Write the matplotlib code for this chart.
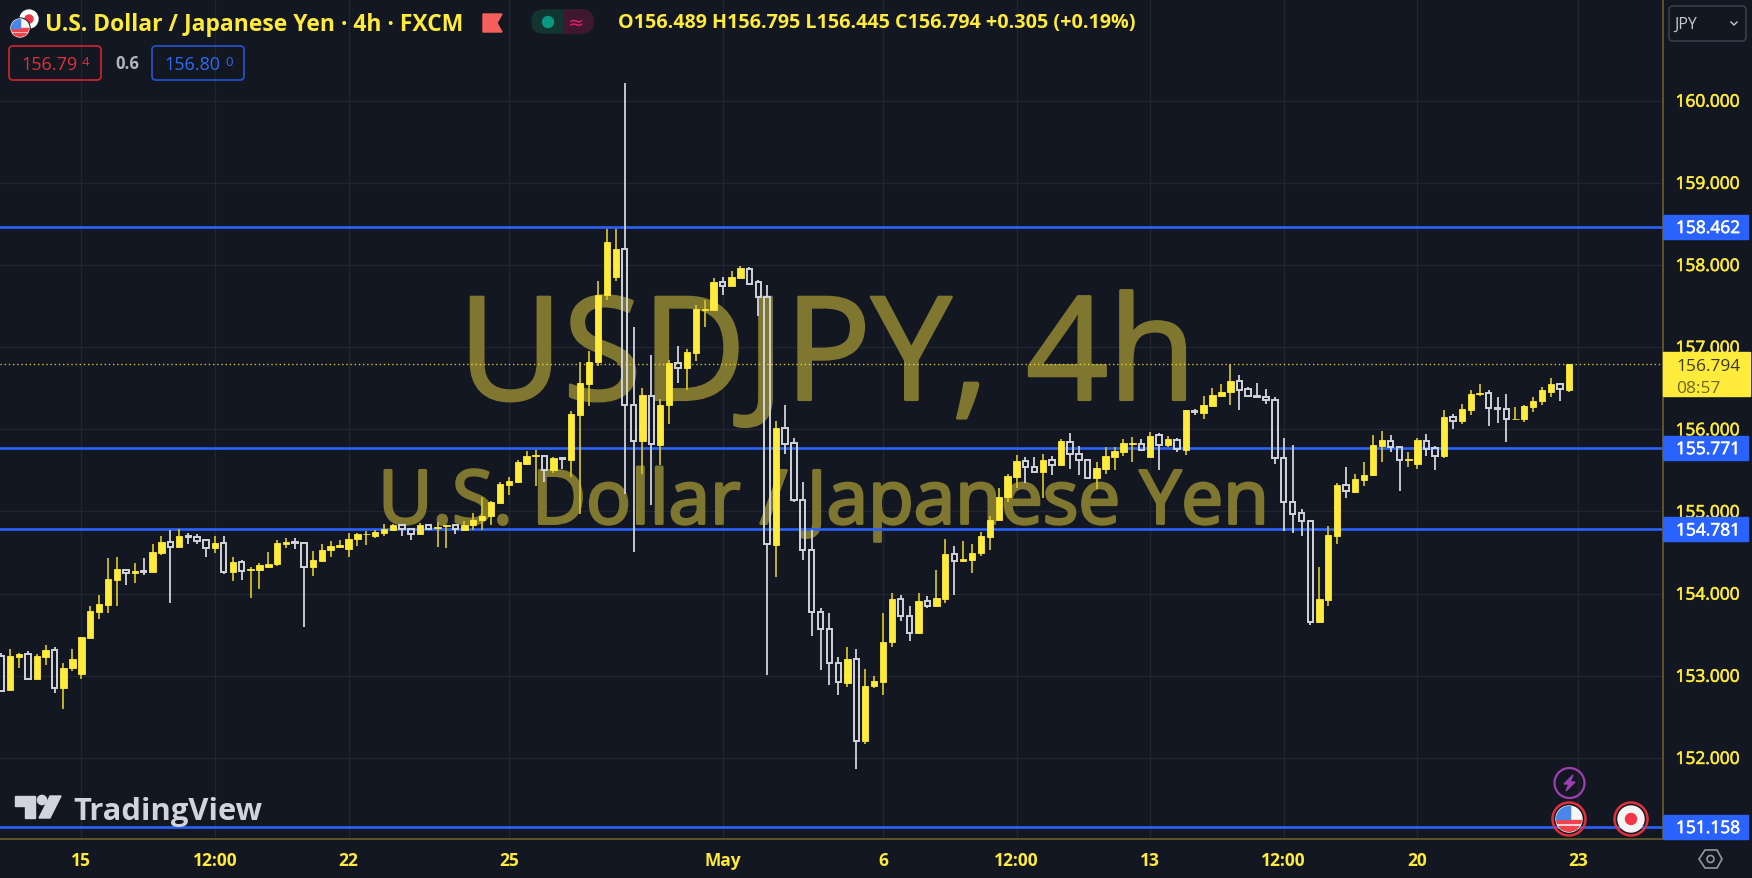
import matplotlib
matplotlib.use('Agg')
from matplotlib import pyplot as plt
from matplotlib import patheffects as pe
from matplotlib.patches import Rectangle, Circle, FancyBboxPatch, Polygon

# 4h candles, first bar is index -9 (index 0 is the "15" tick)
first_bar = -9
opens = [153.24, 152.83, 153.23, 153.26, 152.96, 153.23, 153.31, 152.85, 153.09, 153.02,
         153.46, 153.78, 153.86, 154.17, 154.29, 154.25, 154.28, 154.26, 154.49, 154.63,
         154.57, 154.70, 154.69, 154.65, 154.55, 154.62, 154.26, 154.38, 154.29, 154.29,
         154.33, 154.36, 154.61, 154.63, 154.62, 154.32, 154.40, 154.53, 154.57, 154.54,
         154.67, 154.72, 154.70, 154.74, 154.78, 154.84, 154.79, 154.72, 154.84, 154.80,
         154.82, 154.83, 154.78, 154.83, 154.90, 154.94, 155.10, 155.32, 155.36, 155.58,
         155.67, 155.68, 155.50, 155.65, 155.63, 156.18, 156.55, 156.82, 157.64, 157.86,
         158.20, 156.30, 155.86, 156.41, 155.81, 156.30, 156.81, 156.75, 156.93, 157.45,
         157.45, 157.79, 157.74, 157.84, 157.95, 157.79, 157.61, 154.59, 156.02, 155.83,
         155.14, 154.53, 153.78, 153.57, 153.16, 152.91, 153.20, 152.21, 152.87, 152.93,
         153.41, 153.94, 153.73, 153.52, 153.91, 153.85, 153.94, 154.48, 154.40, 154.41,
         154.49, 154.69, 154.89, 155.17, 155.42, 155.61, 155.54, 155.48, 155.63, 155.56,
         155.85, 155.70, 155.63, 155.41, 155.52, 155.66, 155.72, 155.82, 155.82, 155.66,
         155.93, 155.81, 155.87, 155.75, 156.22, 156.20, 156.28, 156.40, 156.45, 156.59,
         156.49, 156.40, 156.39, 156.36, 155.65, 155.12, 154.98, 154.88, 153.65, 153.92,
         154.70, 155.32, 155.24, 155.38, 155.44, 155.80, 155.86, 155.79, 155.63, 155.58,
         155.86, 155.77, 155.67, 156.15, 156.10, 156.24, 156.43, 156.44, 156.26, 156.25,
         156.12, 156.13, 156.27, 156.34, 156.46, 156.55, 156.48]
highs = [153.28, 153.33, 153.28, 153.30, 153.27, 153.38, 153.35, 153.15, 153.32, 153.47,
         153.85, 153.98, 154.43, 154.45, 154.30, 154.37, 154.43, 154.61, 154.70, 154.77,
         154.79, 154.74, 154.72, 154.67, 154.70, 154.70, 154.45, 154.41, 154.32, 154.37,
         154.51, 154.65, 154.68, 154.68, 154.62, 154.52, 154.61, 154.64, 154.65, 154.74,
         154.74, 154.76, 154.77, 154.85, 154.85, 154.85, 154.79, 154.86, 154.85, 154.87,
         154.83, 154.84, 154.88, 154.98, 155.17, 155.13, 155.36, 155.42, 155.63, 155.74,
         155.75, 155.69, 155.66, 155.66, 156.22, 156.82, 156.95, 157.80, 158.44, 158.44,
         160.22, 157.24, 156.50, 156.90, 156.37, 156.84, 157.01, 156.98, 157.51, 157.58,
         157.84, 157.86, 157.93, 157.99, 157.97, 157.82, 157.76, 156.10, 156.29, 155.90,
         155.36, 154.78, 153.83, 153.76, 153.23, 153.35, 153.32, 153.08, 153.00, 153.77,
         154.01, 153.98, 153.85, 154.01, 153.97, 154.29, 154.66, 154.58, 154.64, 154.60,
         154.75, 154.94, 155.28, 155.46, 155.69, 155.66, 155.66, 155.70, 155.67, 155.88,
         155.96, 155.80, 155.64, 155.60, 155.78, 155.78, 155.88, 155.91, 155.88, 155.97,
         155.95, 155.92, 155.90, 156.24, 156.25, 156.40, 156.50, 156.55, 156.79, 156.66,
         156.51, 156.56, 156.49, 156.39, 155.89, 155.81, 155.03, 154.88, 154.32, 154.82,
         155.35, 155.54, 155.45, 155.60, 155.93, 155.98, 155.93, 155.80, 155.72, 155.89,
         155.94, 155.80, 156.23, 156.19, 156.31, 156.48, 156.55, 156.48, 156.39, 156.43,
         156.27, 156.29, 156.39, 156.52, 156.62, 156.56, 156.80]
lows = [152.80, 152.83, 153.09, 152.96, 152.96, 153.13, 152.79, 152.59, 153.06, 152.96,
        153.46, 153.69, 153.77, 153.85, 154.11, 154.13, 154.23, 154.26, 154.47, 153.89,
        154.57, 154.61, 154.60, 154.45, 154.49, 154.24, 154.15, 154.17, 153.95, 154.06,
        154.32, 154.34, 154.55, 154.54, 153.59, 154.21, 154.39, 154.45, 154.55, 154.44,
        154.58, 154.59, 154.68, 154.70, 154.77, 154.70, 154.65, 154.72, 154.77, 154.57,
        154.55, 154.72, 154.77, 154.77, 154.77, 154.84, 155.09, 155.20, 155.35, 155.56,
        155.31, 155.36, 155.47, 155.52, 155.42, 154.97, 156.28, 156.77, 157.58, 157.81,
        155.21, 154.51, 155.46, 155.08, 155.57, 156.07, 156.56, 156.48, 156.83, 157.24,
        157.45, 157.64, 157.74, 157.84, 157.76, 157.38, 153.01, 154.20, 155.70, 155.11,
        154.41, 153.49, 153.07, 152.89, 152.76, 152.86, 151.87, 152.17, 152.85, 152.76,
        153.35, 153.67, 153.42, 153.51, 153.83, 153.84, 153.88, 153.98, 154.39, 154.25,
        154.46, 154.53, 154.89, 155.12, 155.28, 155.35, 155.47, 155.16, 155.44, 155.55,
        155.52, 155.44, 155.40, 155.27, 155.46, 155.50, 155.67, 155.60, 155.74, 155.66,
        155.51, 155.78, 155.72, 155.69, 156.17, 156.13, 156.28, 156.40, 156.30, 156.24,
        156.39, 156.39, 156.31, 155.58, 154.76, 154.74, 154.70, 153.62, 153.64, 153.85,
        154.60, 155.16, 155.22, 155.31, 155.43, 155.60, 155.72, 155.25, 155.54, 155.52,
        155.67, 155.50, 155.65, 156.00, 156.06, 156.18, 156.40, 156.04, 156.08, 155.84,
        156.12, 156.09, 156.21, 156.29, 156.39, 156.35, 156.45]
closes = [152.82, 153.24, 153.27, 152.96, 153.24, 153.31, 152.85, 153.10, 153.21, 153.47,
          153.79, 153.87, 154.18, 154.30, 154.25, 154.28, 154.26, 154.51, 154.63, 154.57,
          154.70, 154.69, 154.64, 154.56, 154.62, 154.26, 154.38, 154.28, 154.30, 154.35,
          154.36, 154.62, 154.63, 154.62, 154.32, 154.41, 154.53, 154.58, 154.59, 154.67,
          154.72, 154.73, 154.75, 154.79, 154.84, 154.79, 154.72, 154.84, 154.79, 154.81,
          154.83, 154.79, 154.84, 154.90, 154.95, 155.12, 155.33, 155.37, 155.60, 155.67,
          155.69, 155.50, 155.65, 155.64, 156.19, 156.56, 156.82, 157.64, 158.28, 158.20,
          156.30, 155.86, 156.42, 155.82, 156.30, 156.81, 156.75, 156.94, 157.47, 157.47,
          157.79, 157.74, 157.86, 157.96, 157.77, 157.61, 154.60, 156.02, 155.82, 155.14,
          154.53, 153.78, 153.57, 153.16, 152.92, 153.20, 152.21, 152.88, 152.94, 153.41,
          153.94, 153.73, 153.52, 153.91, 153.85, 153.95, 154.48, 154.40, 154.42, 154.50,
          154.70, 154.89, 155.17, 155.43, 155.61, 155.54, 155.48, 155.63, 155.57, 155.86,
          155.70, 155.63, 155.41, 155.53, 155.67, 155.73, 155.83, 155.83, 155.75, 155.92,
          155.81, 155.88, 155.76, 156.23, 156.21, 156.29, 156.42, 156.46, 156.59, 156.48,
          156.40, 156.39, 156.36, 155.65, 155.12, 154.97, 154.88, 153.66, 153.94, 154.71,
          155.32, 155.25, 155.39, 155.44, 155.81, 155.87, 155.79, 155.63, 155.64, 155.87,
          155.76, 155.68, 156.15, 156.10, 156.25, 156.43, 156.44, 156.26, 156.25, 156.12,
          156.13, 156.28, 156.35, 156.48, 156.55, 156.49, 156.794]

level_values = [158.462, 155.771, 154.781, 151.158]
last_price = 156.794
price_ticks = [152, 153, 154, 155, 156, 157, 158, 159, 160]
time_ticks = [0, 15, 30, 48, 72, 90, 105, 120, 135, 150, 168]
time_labels = ['15', '12:00', '22', '25', 'May', '6', '12:00', '13', '12:00', '20', '23']

BG = '#131722'
GRID = '#212530'
BORDER = '#5c5528'
YELLOW = '#ffeb3b'
WICK_Y = '#cfbd2c'
WHITE = '#d1d4dc'
BLUE = '#2962ff'
WATERMARK = '#7f7630'
FONT = ['Open Sans', 'DejaVu Sans']
plt.rcParams['font.family'] = FONT

W, H = 1752, 879
fig = plt.figure(figsize=(W / 100, H / 100), dpi=100, facecolor=BG)

# main price panel, 1663 x 840 pixels
ax = fig.add_axes([0, 1 - 840 / H, 1663 / W, 840 / H], facecolor=BG)
ax.set_xlim(-9.128, 177.58)
ax.set_ylim(151.013, 161.238)

ax.set_xticks(time_ticks)
ax.set_xticklabels(time_labels)
ax.set_yticks(price_ticks)
ax.set_yticklabels(['%.3f' % p for p in price_ticks])
ax.yaxis.tick_right()
ax.tick_params(axis='both', length=0, colors=YELLOW, labelsize=12.5)
ax.tick_params(axis='y', pad=9)
ax.tick_params(axis='x', pad=9)
for lab in ax.get_xticklabels():
    lab.set_fontweight('bold')
for lab in ax.get_yticklabels():
    lab.set_path_effects([pe.withStroke(linewidth=0.4, foreground=YELLOW)])
ax.grid(True, color=GRID, linewidth=1)
ax.set_axisbelow(True)
for name in ['top', 'left']:
    ax.spines[name].set_visible(False)
for name in ['right', 'bottom']:
    ax.spines[name].set_color(BORDER)
    ax.spines[name].set_linewidth(1.4)

# 水印
thick = [pe.withStroke(linewidth=2, foreground=WATERMARK)]
ax.text(0.4975, 0.523, 'USDJPY, 4h', transform=ax.transAxes, fontsize=103.5, color=WATERMARK,
        ha='center', va='baseline', zorder=1, path_effects=thick)
ax.text(0.4955, 0.3755, 'U.S. Dollar / Japanese Yen', transform=ax.transAxes, fontsize=53.7,
        color=WATERMARK, ha='center', va='baseline', zorder=1, path_effects=thick)

# horizontal levels and last price
for lv in level_values:
    ax.axhline(lv, color=BLUE, linewidth=1.9, zorder=2)
ax.axhline(last_price, color=YELLOW, linewidth=1, linestyle=(0, (1, 2)), alpha=0.8, zorder=2)

# candles
for n in range(len(opens)):
    x = first_bar + n
    o, h, l, c = opens[n], highs[n], lows[n], closes[n]
    top, bot = max(o, c), min(o, c)
    if c >= o:
        ax.vlines(x, l, h, color=WICK_Y, linewidth=1.3, zorder=3)
        ax.bar(x, top - bot, bottom=bot, width=0.72, color=YELLOW, linewidth=0.6,
               edgecolor=YELLOW, zorder=4)
    else:
        ax.vlines(x, top, h, color=WHITE, linewidth=1.3, zorder=3)
        ax.vlines(x, l, bot, color=WHITE, linewidth=1.3, zorder=3)
        ax.bar(x, top - bot, bottom=bot, width=0.6, facecolor='none', linewidth=1.4,
               edgecolor=WHITE, zorder=4)

# price tags on the axis
tag_tr = ax.get_yaxis_transform()
tag_w = 85 / 1663
for lv in level_values:
    ax.add_patch(Rectangle((1, lv - 0.146), tag_w, 0.292, transform=tag_tr, color=BLUE,
                           clip_on=False, zorder=6))
    ax.text(1 + 13 / 1663, lv, '%.3f' % lv, transform=tag_tr, color='white', fontsize=12.5,
            va='center_baseline', clip_on=False, zorder=7,
            path_effects=[pe.withStroke(linewidth=0.4, foreground='white')])
ax.add_patch(Rectangle((1, last_price - 0.386), 87 / 1663, 0.536, transform=tag_tr, color=YELLOW,
                       clip_on=False, zorder=6))
ax.text(1 + 13 / 1663, last_price, '%.3f' % last_price, transform=tag_tr, color='#3b3a20',
        fontsize=12.5, va='center_baseline', clip_on=False, zorder=7)
ax.text(1 + 13 / 1663, last_price - 0.27, '08:57', transform=tag_tr, color='#6d6722',
        fontsize=12.5, va='center_baseline', clip_on=False, zorder=7)

# header, buttons and logo in pixel coordinates
ui = fig.add_axes([0, 0, 1, 1], facecolor='none')
ui.set_xlim(0, W)
ui.set_ylim(H, 0)
ui.axis('off')

ui.text(45, 25, 'U.S. Dollar / Japanese Yen · 4h · FXCM', color=YELLOW, fontsize=16.5,
        fontweight='bold', va='center')
ui.text(618, 23, 'O156.489 H156.795 L156.445 C156.794 +0.305 (+0.19%)', color=YELLOW,
        fontsize=14.2, fontweight='bold', va='center')


def us_flag(cx, cy, r, zorder=5):
    disc = Circle((cx, cy), r, color='#f5f5f5', zorder=zorder)
    ui.add_patch(disc)
    for y0 in [0.05, 0.55]:
        s = Rectangle((cx - r, cy + y0 * r), 2 * r, 0.25 * r, color='#f0444c', zorder=zorder)
        ui.add_patch(s)
        s.set_clip_path(disc)
    low = Rectangle((cx - r, cy + 0.8 * r), 2 * r, 0.3 * r, color='#f0444c', zorder=zorder)
    ui.add_patch(low)
    low.set_clip_path(disc)
    canton = Rectangle((cx - r, cy - r), r * 1.05, r, color='#4a86e8', zorder=zorder)
    ui.add_patch(canton)
    canton.set_clip_path(disc)


# symbol icons
ui.add_patch(Circle((29, 20), 9, color='white'))
ui.add_patch(Circle((29, 20), 4, color='#f23645'))
ui.add_patch(Circle((20, 29), 10, color=BG))
us_flag(20, 29, 9, zorder=2)
ui.add_patch(Polygon([(483, 15), (502, 15), (497, 24), (502, 33), (483, 33)], color='#f5605c'))

# market status pill
ui.add_patch(FancyBboxPatch((532, 11), 61, 23, boxstyle='round,pad=0,rounding_size=11',
                            color='#123530'))
pink = FancyBboxPatch((532, 11), 61, 23, boxstyle='round,pad=0,rounding_size=11', color='#3f1730')
ui.add_patch(pink)
pink.set_clip_path(Rectangle((563, 5), 40, 35, transform=ui.transData))
ui.add_patch(Circle((548, 23), 5.5, color='#089981'))
ui.text(576, 23, '≈', color='#e91e63', fontsize=14, ha='center', va='center',
        family='DejaVu Sans')

# bid / ask boxes
ui.add_patch(FancyBboxPatch((9, 47), 92, 34, boxstyle='round,pad=0,rounding_size=4', fill=False,
                            ec='#c4242f', lw=1.3))
ui.text(21, 65, '156.79', color='#e0303c', fontsize=13, va='center')
ui.text(82, 63, '4', color='#e0303c', fontsize=9.5, va='center')
ui.text(115, 64, '0.6', color='#b2b5be', fontsize=12, fontweight='bold', va='center')
ui.add_patch(FancyBboxPatch((152, 47), 92, 34, boxstyle='round,pad=0,rounding_size=4', fill=False,
                            ec='#2450c8', lw=1.3))
ui.text(164, 65, '156.80', color='#2e6bf0', fontsize=13, va='center')
ui.text(225, 63, '0', color='#2e6bf0', fontsize=9.5, va='center')

# currency button
ui.add_patch(FancyBboxPatch((1669, 7), 77, 35, boxstyle='round,pad=0,rounding_size=4', fill=False,
                            ec='#3a3e4a', lw=1.2))
ui.text(1674, 25, 'JPY', color='#c8cad0', fontsize=11.5, va='center')
ui.plot([1731, 1734, 1737], [23, 26, 23], color='#c8cad0', lw=1)

# TradingView logo
LOGO = '#d1d4dc'
ui.add_patch(Polygon([(15, 797), (35, 797), (35, 819), (25, 819), (25, 807), (15, 807)], color=LOGO))
ui.add_patch(Circle((42, 801), 4.6, color=LOGO))
ui.add_patch(Polygon([(50, 797), (61, 797), (50, 819), (39, 819)], color=LOGO))
ui.text(73, 812, 'TradingView', color=LOGO, fontsize=22.2, fontweight='bold', va='center')

# event markers
ui.add_patch(Circle((1569.5, 784), 15, fill=False, ec='#9c3fb0', lw=1.6))
ui.add_patch(Polygon([(1573, 776), (1564, 785), (1569, 785), (1566, 792), (1575, 783), (1570, 783)],
                     color='#9c3fb0'))
ui.add_patch(Circle((1569, 820), 16.5, fill=False, ec='#e0303c', lw=1.8, zorder=5))
us_flag(1569, 820, 13)
ui.add_patch(Circle((1631, 820), 16.5, fill=False, ec='#e0303c', lw=1.8, zorder=5))
ui.add_patch(Circle((1631, 820), 13, color='#f5f5f5', zorder=5))
ui.add_patch(Circle((1631, 820), 5.5, color='#f23645', zorder=5))

# settings hexagon
ui.add_patch(Polygon([(1699, 860), (1705, 851), (1717, 851), (1722, 860), (1717, 869), (1705, 869)],
                     fill=False, ec='#9598a1', lw=1.2))
ui.add_patch(Circle((1710.5, 860), 3.5, fill=False, ec='#9598a1', lw=1.2))

fig.savefig('out.png', dpi=100, facecolor=BG)
